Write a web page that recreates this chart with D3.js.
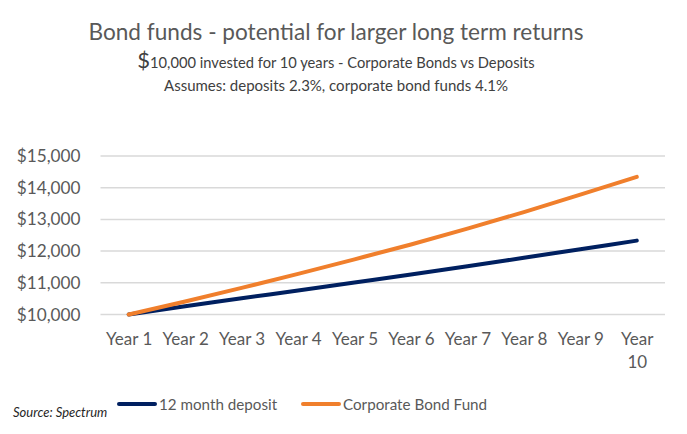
<!DOCTYPE html>
<html><head><meta charset="utf-8">
<script src="https://cdn.jsdelivr.net/npm/d3@7"></script>
<style>
html,body{margin:0;padding:0;background:#fff;}
svg{display:block;font-family:Lato,"Open Sans",sans-serif;}
</style></head>
<body>
<svg id="chart" width="687" height="434"></svg>
<script>
const categories = ["Year 1","Year 2","Year 3","Year 4","Year 5","Year 6","Year 7","Year 8","Year 9","Year 10"];
const deposit = [10000,10260,10510,10760,11010,11260,11520,11790,12060,12330];
const corporate = [10000,10410,10840,11280,11740,12210,12710,13230,13780,14340];
const yTicks = [10000,11000,12000,13000,14000,15000];
const seriesNames = ["12 month deposit","Corporate Bond Fund"];
const seriesColors = ["#002060","#F07F2C"];

const svg = d3.select("#chart");
const plot = {left:100.5, right:665, top:156, bottom:314.5};

const x = d3.scalePoint().domain(categories).range([plot.left, plot.right]).padding(0.5);
const y = d3.scaleLinear().domain([10000,15000]).range([plot.bottom, plot.top]);

// title
svg.append("text").attr("x",336).attr("y",40).attr("text-anchor","middle")
  .attr("font-size",22.6).attr("fill","#595959").text("Bond funds - potential for larger long term returns");
const sub = svg.append("text").attr("x",336).attr("y",68).attr("text-anchor","middle").attr("fill","#404040");
sub.append("tspan").attr("font-size",22).text("$");
sub.append("tspan").attr("font-size",14.7).text("10,000 invested for 10 years - Corporate Bonds vs Deposits");
svg.append("text").attr("x",336).attr("y",91).attr("text-anchor","middle")
  .attr("font-size",15).attr("fill","#404040").text("Assumes: deposits 2.3%, corporate bond funds 4.1%");

// gridlines
svg.append("g").selectAll("line").data(yTicks).join("line")
  .attr("x1",plot.left).attr("x2",plot.right)
  .attr("y1",d=>y(d)).attr("y2",d=>y(d))
  .attr("stroke","#d9d9d9").attr("stroke-width",1.5);

// y axis
const yAxis = svg.append("g").attr("transform",`translate(${plot.left-20},0)`)
  .call(d3.axisLeft(y).tickValues(yTicks).tickSize(0).tickPadding(0).tickFormat(d=>"$"+d3.format(",")(d)));
yAxis.select(".domain").remove();
yAxis.selectAll("text").attr("font-size",17.2).attr("fill","#595959").attr("font-family","Lato,sans-serif");

// x axis
const xAxis = svg.append("g").attr("transform",`translate(0,${plot.bottom})`)
  .call(d3.axisBottom(x).tickSize(0).tickPadding(18));
xAxis.select(".domain").remove();
xAxis.selectAll("text").attr("font-size",17).attr("fill","#595959").attr("font-family","Lato,sans-serif")
  .each(function(d){
    const t = d3.select(this);
    if (d === "Year 10") {
      t.text(null);
      t.append("tspan").attr("x",0).attr("dy","0.71em").text("Year");
      t.append("tspan").attr("x",0).attr("dy","1.35em").text("10");
      t.attr("dy",null);
    }
  });

// lines
const line = d3.line().x((d,i)=>x(categories[i])).y(d=>y(d)).curve(d3.curveMonotoneX);
[deposit, corporate].forEach((s,k)=>{
  svg.append("path").datum(s).attr("d",line).attr("fill","none")
    .attr("stroke",seriesColors[k]).attr("stroke-width",4).attr("stroke-linecap","round").attr("stroke-linejoin","round");
});

// legend
const legX = [118, 302];
seriesNames.forEach((n,k)=>{
  const g = svg.append("g").attr("transform",`translate(${legX[k]},404)`);
  g.append("line").attr("x1",1).attr("x2",37).attr("y1",0).attr("y2",0)
    .attr("stroke",seriesColors[k]).attr("stroke-width",4).attr("stroke-linecap","round");
  g.append("text").attr("x",41).attr("y",5.5).attr("font-size",15.2).attr("fill","#595959").text(n);
});

// source
svg.append("text").attr("x",13).attr("y",417).attr("font-size",13).attr("font-style","italic")
  .attr("fill","#262626").text("Source: Spectrum");
</script>
</body></html>
